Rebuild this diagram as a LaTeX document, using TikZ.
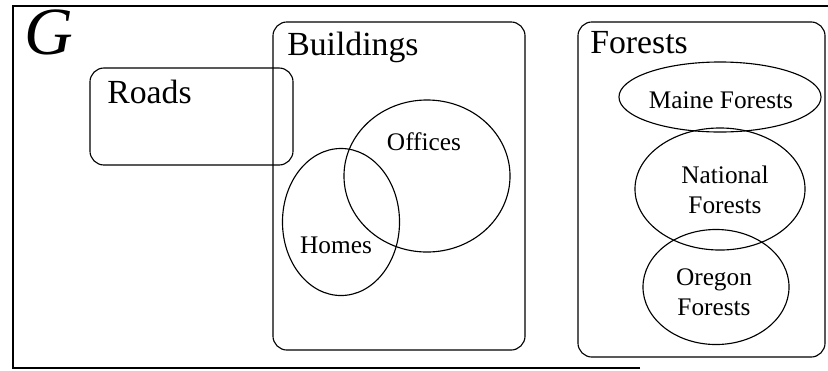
\documentclass[tikz,border=0pt]{standalone}
\usepackage{fontspec}
\setmainfont{Liberation Serif}
\usetikzlibrary{shapes.geometric,positioning}

\begin{document}
\begin{tikzpicture}[x=0.025cm,y=-0.025cm,
    region/.style={draw,line width=0.8pt,rounded corners=10pt,inner sep=0pt},
    blob/.style={draw,line width=0.8pt,ellipse,inner sep=0pt},
    head/.style={inner sep=0pt,anchor=base west,font=\fontsize{24}{28}\selectfont},
    lbl/.style={align=center,inner sep=0pt,font=\fontsize{18}{21}\selectfont}
  ]
    \useasboundingbox (0,0) rectangle (828,370);
    % outer frame G
    \draw[line width=0.8pt] (640,368) -- (13,368) -- (13,6) -- (828,6);
    \node[inner sep=0pt,anchor=north west,font=\fontsize{48}{48}\selectfont\itshape] (g) at (24,10) {G};
    % boxes
    \node[region,minimum width=5.075cm,minimum height=2.425cm] (roads) at (191.5,116.5) {};
    \node[head] (roadsl) at (107,103) {Roads};
    \node[region,minimum width=6.3cm,minimum height=8.2cm] (bldg) at (399,186) {};
    \node[head] (bldgl) at (287,55) {Buildings};
    \node[region,minimum width=6.175cm,minimum height=8.375cm] (forests) at (701.5,189.5) {};
    \node[head] (forestsl) at (590,53) {Forests};
    % buildings
    \node[blob,minimum width=4.15cm,minimum height=3.8cm] (offices) at (427,176) {};
    \node[lbl] (officesl) at (424,142) {Offices};
    \node[blob,minimum width=2.925cm,minimum height=3.675cm] (homes) at (341,222) {};
    \node[lbl] (homesl) at (336,245) {Homes};
    % forests
    \node[blob,minimum width=5.05cm,minimum height=1.75cm] (maine) at (720,97) {};
    \node[lbl] (mainel) at (721,100) {Maine Forests};
    \node[blob,minimum width=4.25cm,minimum height=3.05cm] (national) at (720,189) {};
    \node[lbl] (nationall) at (725,190) {National\\Forests};
    \node[blob,minimum width=3.65cm,minimum height=2.875cm] (oregon) at (716,287) {};
    \node[lbl] (oregonl) at (714,292) {Oregon\\Forests};
  \end{tikzpicture}
\end{document}
